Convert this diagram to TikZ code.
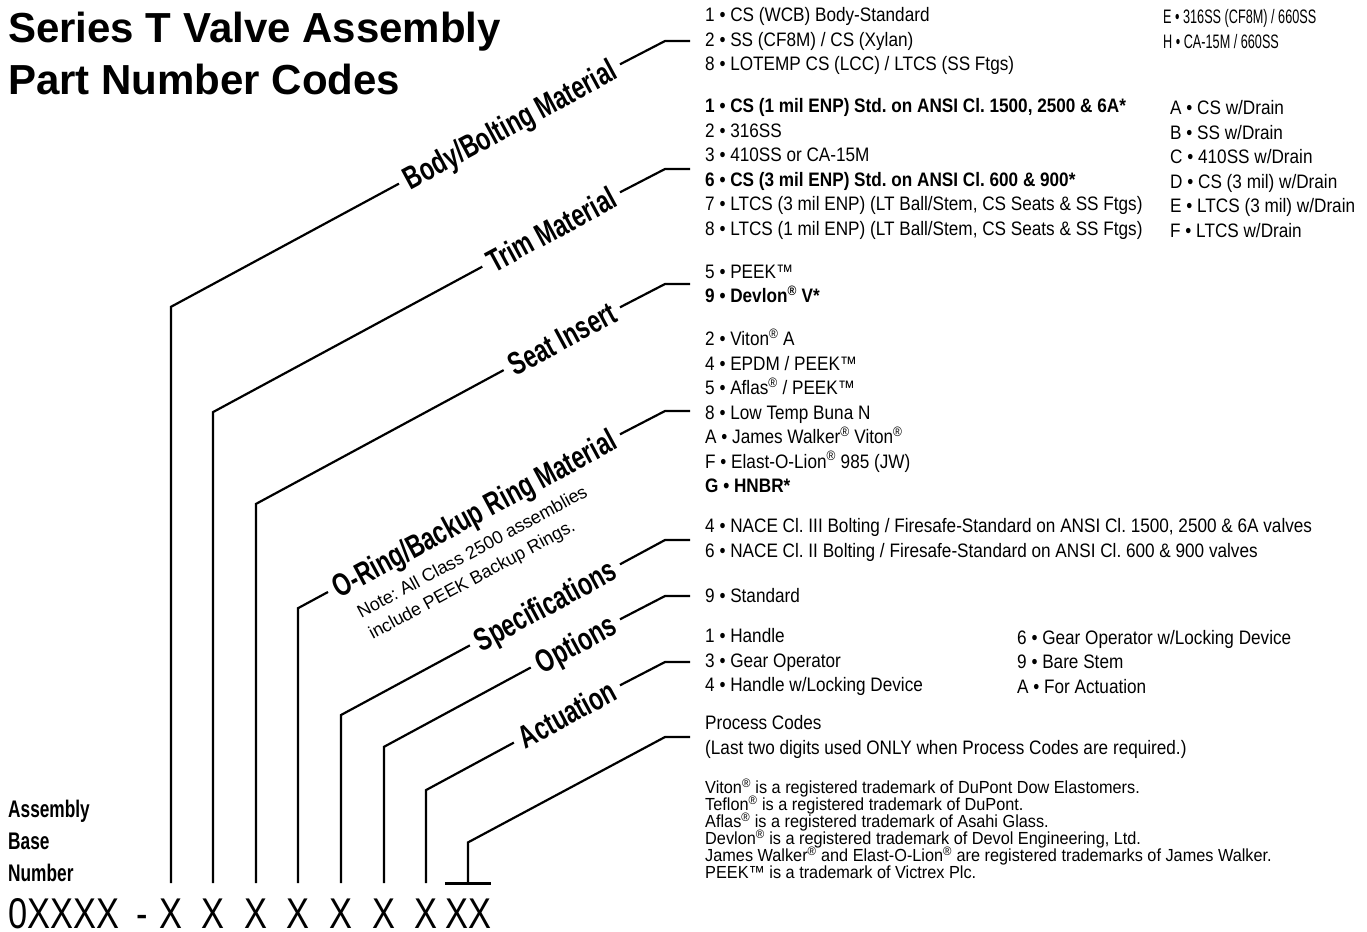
\documentclass[tikz,border=0pt]{standalone}
\usepackage{fontspec}
\setmainfont{Liberation Sans}
\newfontfamily\condfont[FakeStretch=0.72]{Liberation Sans}
\newfontfamily\listfont[FakeStretch=0.88]{Liberation Sans}
\newfontfamily\narrowfont[FakeStretch=0.65]{Liberation Sans}
\newfontfamily\tmfont[FakeStretch=0.93]{Liberation Sans}
\newfontfamily\codefont[FakeStretch=0.8]{Liberation Sans}
\newcommand\rmark{\textsuperscript{®}}
\frenchspacing
\tikzset{
  vlead/.style={line width=2.2pt, draw=black, line cap=butt},
  vtee/.style={line width=2.6pt, draw=black, line cap=butt},
  vlabel/.style={font=\condfont\bfseries\fontsize{32}{32}\selectfont, rotate=28.37,
    anchor=east, inner xsep=7pt, inner ysep=0pt, text height=23pt, text depth=0pt},
  vlist/.style={font=\listfont\fontsize{19.5}{24.5}\selectfont, align=left,
    anchor=west, inner sep=0pt},
  vcode/.style={font=\codefont\fontsize{43}{43}\selectfont, inner sep=0pt, anchor=base},
}

\begin{document}
\begin{tikzpicture}[x=1pt,y=-1pt]
\useasboundingbox (0,0) rectangle (1367,931);
% title and base number
\node[anchor=north west, inner sep=0pt, align=left,
  font=\bfseries\fontsize{42}{52}\selectfont] (title) at (8,12)
  {Series T Valve Assembly\\Part Number Codes};
\node[anchor=north west, inner sep=0pt, align=left,
  font=\condfont\bfseries\fontsize{24}{32}\selectfont] (asm) at (8,800)
  {Assembly\\Base\\Number};
\node[vcode, anchor=base west] (base) at (8,928) {0XXXX};
\node[vcode] (dash) at (142,928) {-};
\foreach \i/\x in {1/171,2/213,3/256,4/298,5/341,6/384,7/426}
  \node[vcode] (x\i) at (\x,928) {X};
\node[vcode] (xx) at (468,928) {XX};
% slanted labels
\node[vlabel] (body) at (620,64.3) {Body/Bolting Material};
\node[vlabel] (trim) at (620,192.3) {Trim Material};
\node[vlabel] (seat) at (620,307.3) {Seat Insert};
\node[vlabel] (oring) at (620,434.3) {O-Ring/Backup Ring Material};
\node[vlabel] (spec) at (620,564.3) {Specifications};
\node[vlabel] (opt) at (620,619.3) {Options};
\node[vlabel] (act) at (620,685.3) {Actuation};
\node[rotate=28.37, anchor=north west, inner sep=0pt, align=left,
  font=\fontsize{18}{24}\selectfont] (note) at (355,607)
  {Note: All Class 2500 assemblies\\include PEEK Backup Rings.};
% code lists
\node[vlist] (bodylist) at (705,41) {1 • CS (WCB) Body-Standard\\2 • SS (CF8M) / CS (Xylan)\\8 • LOTEMP CS (LCC) / LTCS (SS Ftgs)};
\node[vlist, font=\narrowfont\fontsize{19.5}{24.5}\selectfont] (bodyalt) at (1163,29) {E • 316SS (CF8M) / 660SS\\H • CA-15M / 660SS};
\node[vlist] (trimlist) at (705,169) {\textbf{1 • CS (1 mil ENP) Std. on ANSI Cl. 1500, 2500 \& 6A*}\\2 • 316SS\\3 • 410SS or CA-15M\\\textbf{6 • CS (3 mil ENP) Std. on ANSI Cl. 600 \& 900*}\\7 • LTCS (3 mil ENP) (LT Ball/Stem, CS Seats \& SS Ftgs)\\8 • LTCS (1 mil ENP) (LT Ball/Stem, CS Seats \& SS Ftgs)};
\node[vlist] (trimalt) at (1170,169) {A • CS w/Drain\\B • SS w/Drain\\C • 410SS w/Drain\\D • CS (3 mil) w/Drain\\E • LTCS (3 mil) w/Drain\\F • LTCS w/Drain};
\node[vlist] (seatlist) at (705,284) {5 • PEEK™\\\textbf{9 • Devlon\rmark{} V*}};
\node[vlist] (oringlist) at (705,411) {2 • Viton\rmark{} A\\4 • EPDM / PEEK™\\5 • Aflas\rmark{} / PEEK™\\8 • Low Temp Buna N\\A • James Walker\rmark{} Viton\rmark\\F • Elast-O-Lion\rmark{} 985 (JW)\\\textbf{G • HNBR*}};
\node[vlist] (speclist) at (705,540) {4 • NACE Cl. III Bolting / Firesafe-Standard on ANSI Cl. 1500, 2500 \& 6A valves\\6 • NACE Cl. II Bolting / Firesafe-Standard on ANSI Cl. 600 \& 900 valves};
\node[vlist] (optlist) at (705,596) {9 • Standard};
\node[vlist] (actlist) at (705,662) {1 • Handle\\3 • Gear Operator\\4 • Handle w/Locking Device};
\node[vlist] (actalt) at (1017,662) {6 • Gear Operator w/Locking Device\\9 • Bare Stem\\A • For Actuation};
\node[vlist] (proclist) at (705,737) {Process Codes\\(Last two digits used ONLY when Process Codes are required.)};
\node[vlist, font={\tmfont\fontsize{17.5}{17}\selectfont\lineskiplimit=-20pt}] (tmnote) at (705,829)
  {Viton\rmark{} is a registered trademark of DuPont Dow Elastomers.\\
   Teflon\rmark{} is a registered trademark of DuPont.\\
   Aflas\rmark{} is a registered trademark of Asahi Glass.\\
   Devlon\rmark{} is a registered trademark of Devol Engineering, Ltd.\\
   James Walker\rmark{} and Elast-O-Lion\rmark{} are registered trademarks of James Walker.\\
   PEEK™ is a trademark of Victrex Plc.};
% leaders
\foreach \n/\lab/\lst/\cy/\h in {1/body/bodylist/306.8/41, 2/trim/trimlist/412.1/169,
    3/seat/seatlist/503.9/284, 4/oring/oringlist/608.2/411, 5/spec/speclist/715/540,
    6/opt/optlist/746.8/596, 7/act/actlist/790.1/662} {
  \draw[vlead, shorten <=15pt] (x\n.north) -- (x\n.north |- 0,\cy) -- (\lab.west);
  \draw[vlead, shorten >=15pt] (\lab.east) -- (665,\h) -- (\lst.west);
}
\draw[vlead, shorten <=15pt, shorten >=15pt] (xx.north) -- (xx.north |- 0,842.4)
  -- (665,737) -- (proclist.west);
\draw[vtee] ([yshift=15pt]xx.north west) -- ([yshift=15pt]xx.north east);
\end{tikzpicture}
\end{document}
